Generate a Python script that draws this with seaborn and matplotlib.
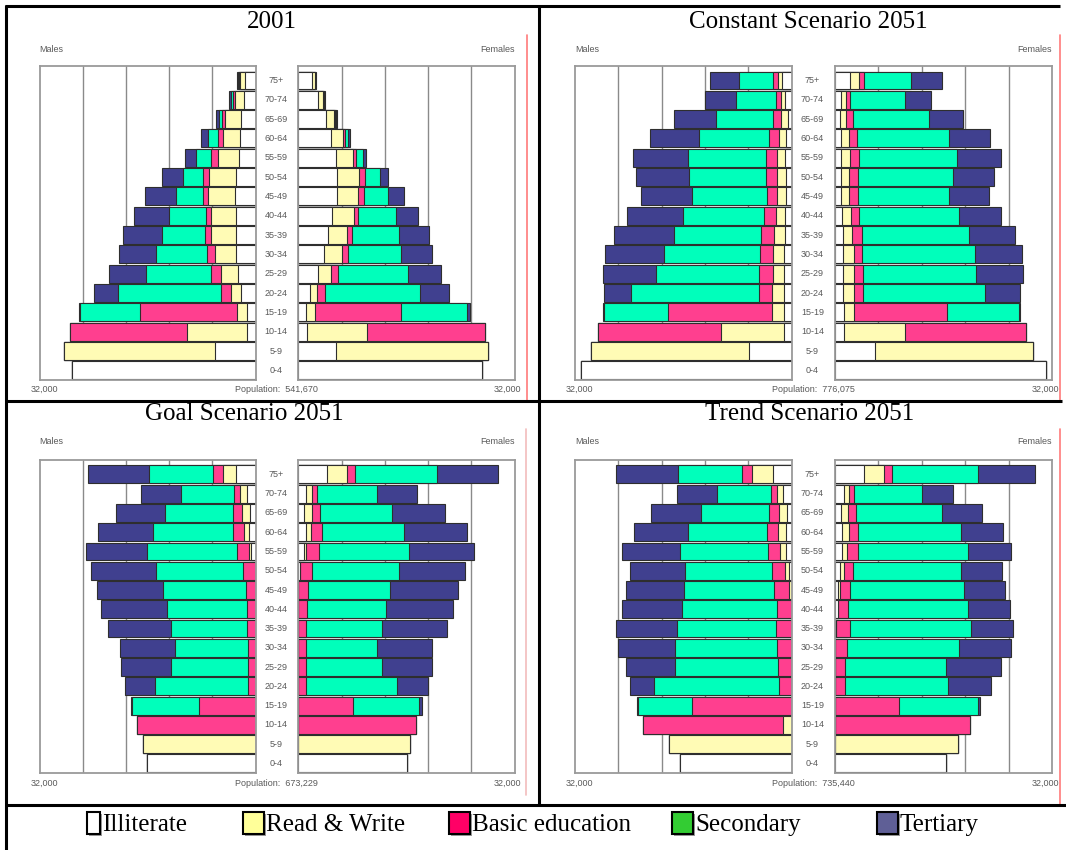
import numpy as np
import matplotlib
matplotlib.use("Agg")
import matplotlib.pyplot as plt
import seaborn as sns
from matplotlib import transforms
from matplotlib.lines import Line2D
from matplotlib.patches import Rectangle

# ---------------- data (persons, age groups 0-4 ... 75+) ----------------
AGES = ["0-4", "5-9", "10-14", "15-19", "20-24", "25-29", "30-34", "35-39",
        "40-44", "45-49", "50-54", "55-59", "60-64", "65-69", "70-74", "75+"]
CATEGORIES = ["Illiterate", "Read & Write", "Basic education", "Secondary", "Tertiary"]

# 2001 - males
M2001_ILL = [27200, 6070, 1225, 1225, 2090, 2650, 2910, 2910, 2910, 3010, 2910, 2500, 2250, 2140, 1680, 1630]
M2001_RW = [0, 22250, 8980, 1530, 1480, 2450, 3110, 3670, 3730, 3980, 3980, 3110, 2600, 2350, 1430, 610]
M2001_BAS = [0, 0, 17250, 14340, 1580, 1530, 1225, 920, 770, 820, 870, 920, 770, 410, 255, 150]
M2001_SEC = [0, 0, 0, 8880, 15260, 9540, 7450, 6380, 5360, 3930, 3010, 2300, 1430, 510, 300, 150]
M2001_TER = [0, 0, 0, 200, 3520, 5510, 5560, 5720, 5260, 4640, 3110, 1680, 970, 410, 255, 200]
# 2001 - females
F2001_ILL = [27170, 5650, 1270, 1120, 1680, 2950, 3870, 4370, 4990, 5750, 5800, 5650, 4880, 4120, 2950, 2030]
F2001_RW = [0, 22330, 8900, 1420, 1170, 1880, 2650, 2900, 3200, 3150, 3200, 2390, 1730, 1120, 660, 410]
F2001_BAS = [0, 0, 17500, 12670, 1120, 1020, 810, 710, 710, 760, 860, 510, 360, 150, 100, 50]
F2001_SEC = [0, 0, 0, 9770, 13990, 10430, 7830, 6870, 5540, 3660, 2190, 1020, 460, 150, 100, 50]
F2001_TER = [0, 0, 0, 410, 4270, 4780, 4630, 4480, 3200, 2240, 1170, 460, 250, 150, 100, 50]

# Constant scenario 2051 - males
MCON_ILL = [31150, 6280, 1150, 1150, 1150, 1150, 1150, 1050, 950, 850, 900, 950, 850, 600, 950, 1450]
MCON_RW = [0, 23380, 9370, 1740, 1790, 1690, 1590, 1550, 1450, 1300, 1300, 1250, 1100, 1050, 700, 600]
MCON_BAS = [0, 0, 18040, 15300, 1890, 1990, 1990, 1890, 1690, 1550, 1550, 1640, 1400, 1100, 700, 750]
MCON_SEC = [0, 0, 0, 9470, 18840, 15150, 14150, 12960, 12010, 11010, 11360, 11460, 10270, 8470, 5930, 4930]
MCON_TER = [0, 0, 0, 200, 3990, 7870, 8720, 8820, 8220, 7580, 7920, 8120, 7230, 6230, 4540, 4390]
# Constant scenario 2051 - females
FCON_ILL = [31100, 5870, 1340, 1290, 1240, 1240, 1240, 1140, 1050, 900, 900, 900, 900, 700, 850, 2190]
FCON_RW = [0, 23290, 9010, 1490, 1540, 1540, 1540, 1440, 1340, 1240, 1240, 1390, 1190, 1000, 750, 1440]
FCON_BAS = [0, 0, 17820, 13740, 1340, 1390, 1290, 1390, 1240, 1240, 1340, 1240, 1140, 1000, 650, 700]
FCON_SEC = [0, 0, 0, 10550, 17970, 16570, 16520, 15730, 14680, 13440, 13930, 14430, 13540, 11150, 8060, 6920]
FCON_TER = [0, 0, 0, 250, 5230, 7020, 7020, 6820, 6220, 5870, 6070, 6520, 6020, 5080, 3830, 4480]

# Goal scenario 2051 - males
MGOAL_ILL = [16130, 0, 0, 0, 0, 0, 0, 0, 0, 0, 0, 610, 920, 770, 1280, 2860]
MGOAL_RW = [0, 16690, 0, 0, 0, 0, 0, 0, 0, 0, 0, 310, 820, 1220, 970, 1890]
MGOAL_BAS = [0, 0, 17560, 8320, 1170, 1170, 1170, 1220, 1330, 1480, 1840, 1890, 1630, 1330, 970, 1480]
MGOAL_SEC = [0, 0, 0, 10000, 13780, 11330, 10720, 11280, 11740, 12200, 12910, 13220, 11840, 10160, 7760, 9540]
MGOAL_TER = [0, 0, 0, 200, 4440, 7500, 8120, 9390, 9850, 9850, 9650, 9140, 8170, 7250, 5970, 9030]
# Goal scenario 2051 - females
FGOAL_ILL = [16080, 0, 0, 0, 0, 0, 0, 0, 0, 0, 310, 810, 1120, 920, 1220, 4270]
FGOAL_RW = [0, 16580, 0, 0, 0, 0, 0, 0, 0, 0, 0, 360, 760, 1070, 760, 2900]
FGOAL_BAS = [0, 0, 17400, 8140, 1120, 1120, 1120, 1220, 1270, 1420, 1680, 1830, 1630, 1170, 760, 1170]
FGOAL_SEC = [0, 0, 0, 9720, 13480, 11240, 10580, 11140, 11700, 12110, 12870, 13330, 12110, 10630, 8900, 12210]
FGOAL_TER = [0, 0, 0, 360, 4580, 7480, 8140, 9610, 9920, 10070, 9770, 9670, 9310, 7940, 5900, 8900]

# Trend scenario 2051 - males
MTREND_ILL = [16550, 0, 0, 0, 0, 0, 0, 0, 0, 0, 400, 800, 850, 750, 1250, 2840]
MTREND_RW = [0, 18140, 1300, 0, 0, 0, 0, 0, 0, 450, 650, 900, 1150, 1150, 900, 2990]
MTREND_BAS = [0, 0, 20680, 14750, 1890, 2040, 2190, 2290, 2240, 2140, 1890, 1890, 1690, 1450, 1000, 1500]
MTREND_SEC = [0, 0, 0, 7870, 18390, 15200, 15050, 14600, 14000, 13360, 12760, 12860, 11660, 10070, 7820, 9470]
MTREND_TER = [0, 0, 0, 200, 3540, 7280, 8420, 8970, 8770, 8470, 8170, 8520, 7970, 7380, 5980, 9070]
# Trend scenario 2051 - females
FTREND_ILL = [16420, 0, 0, 0, 0, 0, 0, 200, 400, 400, 750, 1000, 1090, 900, 1290, 4330]
FTREND_RW = [0, 18170, 0, 0, 0, 0, 0, 0, 0, 400, 550, 850, 1050, 1090, 750, 2940]
FTREND_BAS = [0, 0, 19860, 9410, 1440, 1490, 1790, 2040, 1590, 1490, 1390, 1540, 1290, 1090, 800, 1140]
FTREND_SEC = [0, 0, 0, 11600, 15180, 14880, 16520, 17870, 17620, 16720, 15880, 16220, 15180, 12740, 10000, 12640]
FTREND_TER = [0, 0, 0, 350, 6320, 8160, 7570, 6120, 6120, 6020, 6070, 6370, 6220, 5920, 4630, 8410]

TITLES = ["2001", "Constant Scenario 2051", "Goal Scenario 2051", "Trend Scenario 2051"]
POPULATIONS = ["541,670", "776,075", "673,229", "735,440"]
AXIS_MAX = 32000
AXIS_MAX_LABEL = "32,000"

MALES = [
    [M2001_ILL, M2001_RW, M2001_BAS, M2001_SEC, M2001_TER],
    [MCON_ILL, MCON_RW, MCON_BAS, MCON_SEC, MCON_TER],
    [MGOAL_ILL, MGOAL_RW, MGOAL_BAS, MGOAL_SEC, MGOAL_TER],
    [MTREND_ILL, MTREND_RW, MTREND_BAS, MTREND_SEC, MTREND_TER],
]
FEMALES = [
    [F2001_ILL, F2001_RW, F2001_BAS, F2001_SEC, F2001_TER],
    [FCON_ILL, FCON_RW, FCON_BAS, FCON_SEC, FCON_TER],
    [FGOAL_ILL, FGOAL_RW, FGOAL_BAS, FGOAL_SEC, FGOAL_TER],
    [FTREND_ILL, FTREND_RW, FTREND_BAS, FTREND_SEC, FTREND_TER],
]

# ---------------- styling ----------------
BAR_COLORS = ["#FFFFFF", "#FFFBB5", "#FF3F8F", "#00FFBB", "#40408F"]
LEGEND_COLORS = ["#FFFFFF", "#FFFF99", "#FF0066", "#33CC33", "#5F5F96"]
SMALL = dict(fontsize=6.5, color="#5a5a5a", family=["Liberation Sans", "DejaVu Sans"])
SERIF = ["Liberation Serif", "DejaVu Serif"]

sns.set_style("white")
plt.rcParams["font.family"] = ["Liberation Sans", "DejaVu Sans"]

W, H = 1066, 850
fig = plt.figure(figsize=(W / 100, H / 100), dpi=100)


def rect(x0, x1, yt, yb):
    return [x0 / W, 1 - yb / H, (x1 - x0) / W, (yb - yt) / H]


def fx(x):
    return x / W


def fy(y):
    return 1 - y / H


LAYOUT = [
    dict(tx=271.5, ty=22, top=66, bot=380, m=(39.6, 255.5), f=(298.2, 514.8), hy=49, ly=389,
         red_x=527, red_y=(35, 400), red_c="#ff7a7a"),
    dict(tx=808.5, ty=22, top=66, bot=380, m=(574.8, 791.9), f=(834.8, 1052.2), hy=49, ly=389,
         red_x=1060, red_y=(35, 400), red_c="#ff7a7a"),
    dict(tx=244.5, ty=414, top=460, bot=773, m=(39.6, 255.5), f=(298.2, 514.8), hy=442, ly=783,
         red_x=526, red_y=(429, 795), red_c="#f2bcbc"),
    dict(tx=809.5, ty=414, top=460, bot=773, m=(574.8, 791.9), f=(834.8, 1052.2), hy=442, ly=783,
         red_x=1060, red_y=(429, 805), red_c="#ff7a7a"),
]

ORDER = AGES[::-1]  # 75+ at the top


def draw_side(ax, layers, male):
    cum = np.cumsum(np.array(layers, dtype=float), axis=0)
    for k in range(len(CATEGORIES) - 1, -1, -1):
        sns.barplot(x=cum[k], y=AGES, order=ORDER, orient="h", color=BAR_COLORS[k],
                    saturation=1, edgecolor="#2e2e2e", linewidth=0.8, width=0.93,
                    errorbar=None, ax=ax)
    if male:
        ax.set_xlim(AXIS_MAX, 0)
    else:
        ax.set_xlim(0, AXIS_MAX)
    ax.set_ylim(len(AGES) - 0.5, -0.75)
    ax.set_xticks(np.arange(6400, AXIS_MAX, 6400))
    ax.set_yticks([])
    ax.xaxis.grid(True, color="#8a8a8a", linewidth=1.0)
    ax.yaxis.grid(False)
    ax.set_axisbelow(True)
    ax.tick_params(length=0, labelbottom=False, labelleft=False)
    ax.set_xlabel("")
    ax.set_ylabel("")
    ax.set_facecolor("white")
    for sp in ax.spines.values():
        sp.set_visible(True)
        sp.set_color("#9a9a9a")
        sp.set_linewidth(1.3)


for i, L in enumerate(LAYOUT):
    axm = fig.add_axes(rect(L["m"][0], L["m"][1], L["top"], L["bot"]))
    axf = fig.add_axes(rect(L["f"][0], L["f"][1], L["top"], L["bot"]))
    draw_side(axm, MALES[i], True)
    draw_side(axf, FEMALES[i], False)

    mid = (L["m"][1] + L["f"][0]) / 2
    # age labels in the gap
    tr = transforms.blended_transform_factory(fig.transFigure, axf.transData)
    for j, a in enumerate(ORDER):
        fig.text(fx(mid - 1), j, a, transform=tr, ha="center", va="center", **SMALL)

    fig.text(fx(L["tx"]), fy(L["ty"]), TITLES[i], ha="center", va="center",
             fontsize=18, family=SERIF, color="black")
    fig.text(fx(L["m"][0]), fy(L["hy"]), "Males", ha="left", va="center", **SMALL)
    fig.text(fx(L["f"][1]), fy(L["hy"]), "Females", ha="right", va="center", **SMALL)
    fig.text(fx(L["m"][0] + 5), fy(L["ly"]), AXIS_MAX_LABEL, ha="center", va="center", **SMALL)
    fig.text(fx(L["f"][1] - 7), fy(L["ly"]), AXIS_MAX_LABEL, ha="center", va="center", **SMALL)
    fig.text(fx(mid), fy(L["ly"]), "Population:  " + POPULATIONS[i], ha="center", va="center", **SMALL)

    fig.add_artist(Line2D([fx(L["red_x"])] * 2, [fy(L["red_y"][0]), fy(L["red_y"][1])],
                          color=L["red_c"], linewidth=1.2))

# table borders
BORDER = dict(color="black", linewidth=2.2, solid_capstyle="butt")
fig.add_artist(Line2D([fx(6), fx(6)], [fy(5), fy(850)], **BORDER))
fig.add_artist(Line2D([fx(5), fx(1060)], [fy(6), fy(6)], **BORDER))
fig.add_artist(Line2D([fx(539), fx(539)], [fy(6), fy(805)], **BORDER))
fig.add_artist(Line2D([fx(5), fx(1062)], [fy(400.5), fy(400.5)], **BORDER))
fig.add_artist(Line2D([fx(5), fx(1066)], [fy(805), fy(805)], **BORDER))

# legend row
LEG_BOX_X = [87, 243, 449, 672, 877]
LEG_BOX_W = [13, 21, 21, 21, 21]
for k, name in enumerate(CATEGORIES):
    x0 = LEG_BOX_X[k]
    w = LEG_BOX_W[k]
    # shadow
    fig.add_artist(Rectangle((fx(x0 + 2), fy(836)), w / W, 22 / H, facecolor="#9a9a9a",
                             edgecolor="none", transform=fig.transFigure))
    fig.add_artist(Rectangle((fx(x0), fy(834)), w / W, 22 / H, facecolor=LEGEND_COLORS[k],
                             edgecolor="black", linewidth=1.5, transform=fig.transFigure))
    fig.text(fx(x0 + w + 2), fy(825), name, ha="left", va="center", fontsize=18,
             family=SERIF, color="black")

fig.savefig("out.png", dpi=100, facecolor="white")
